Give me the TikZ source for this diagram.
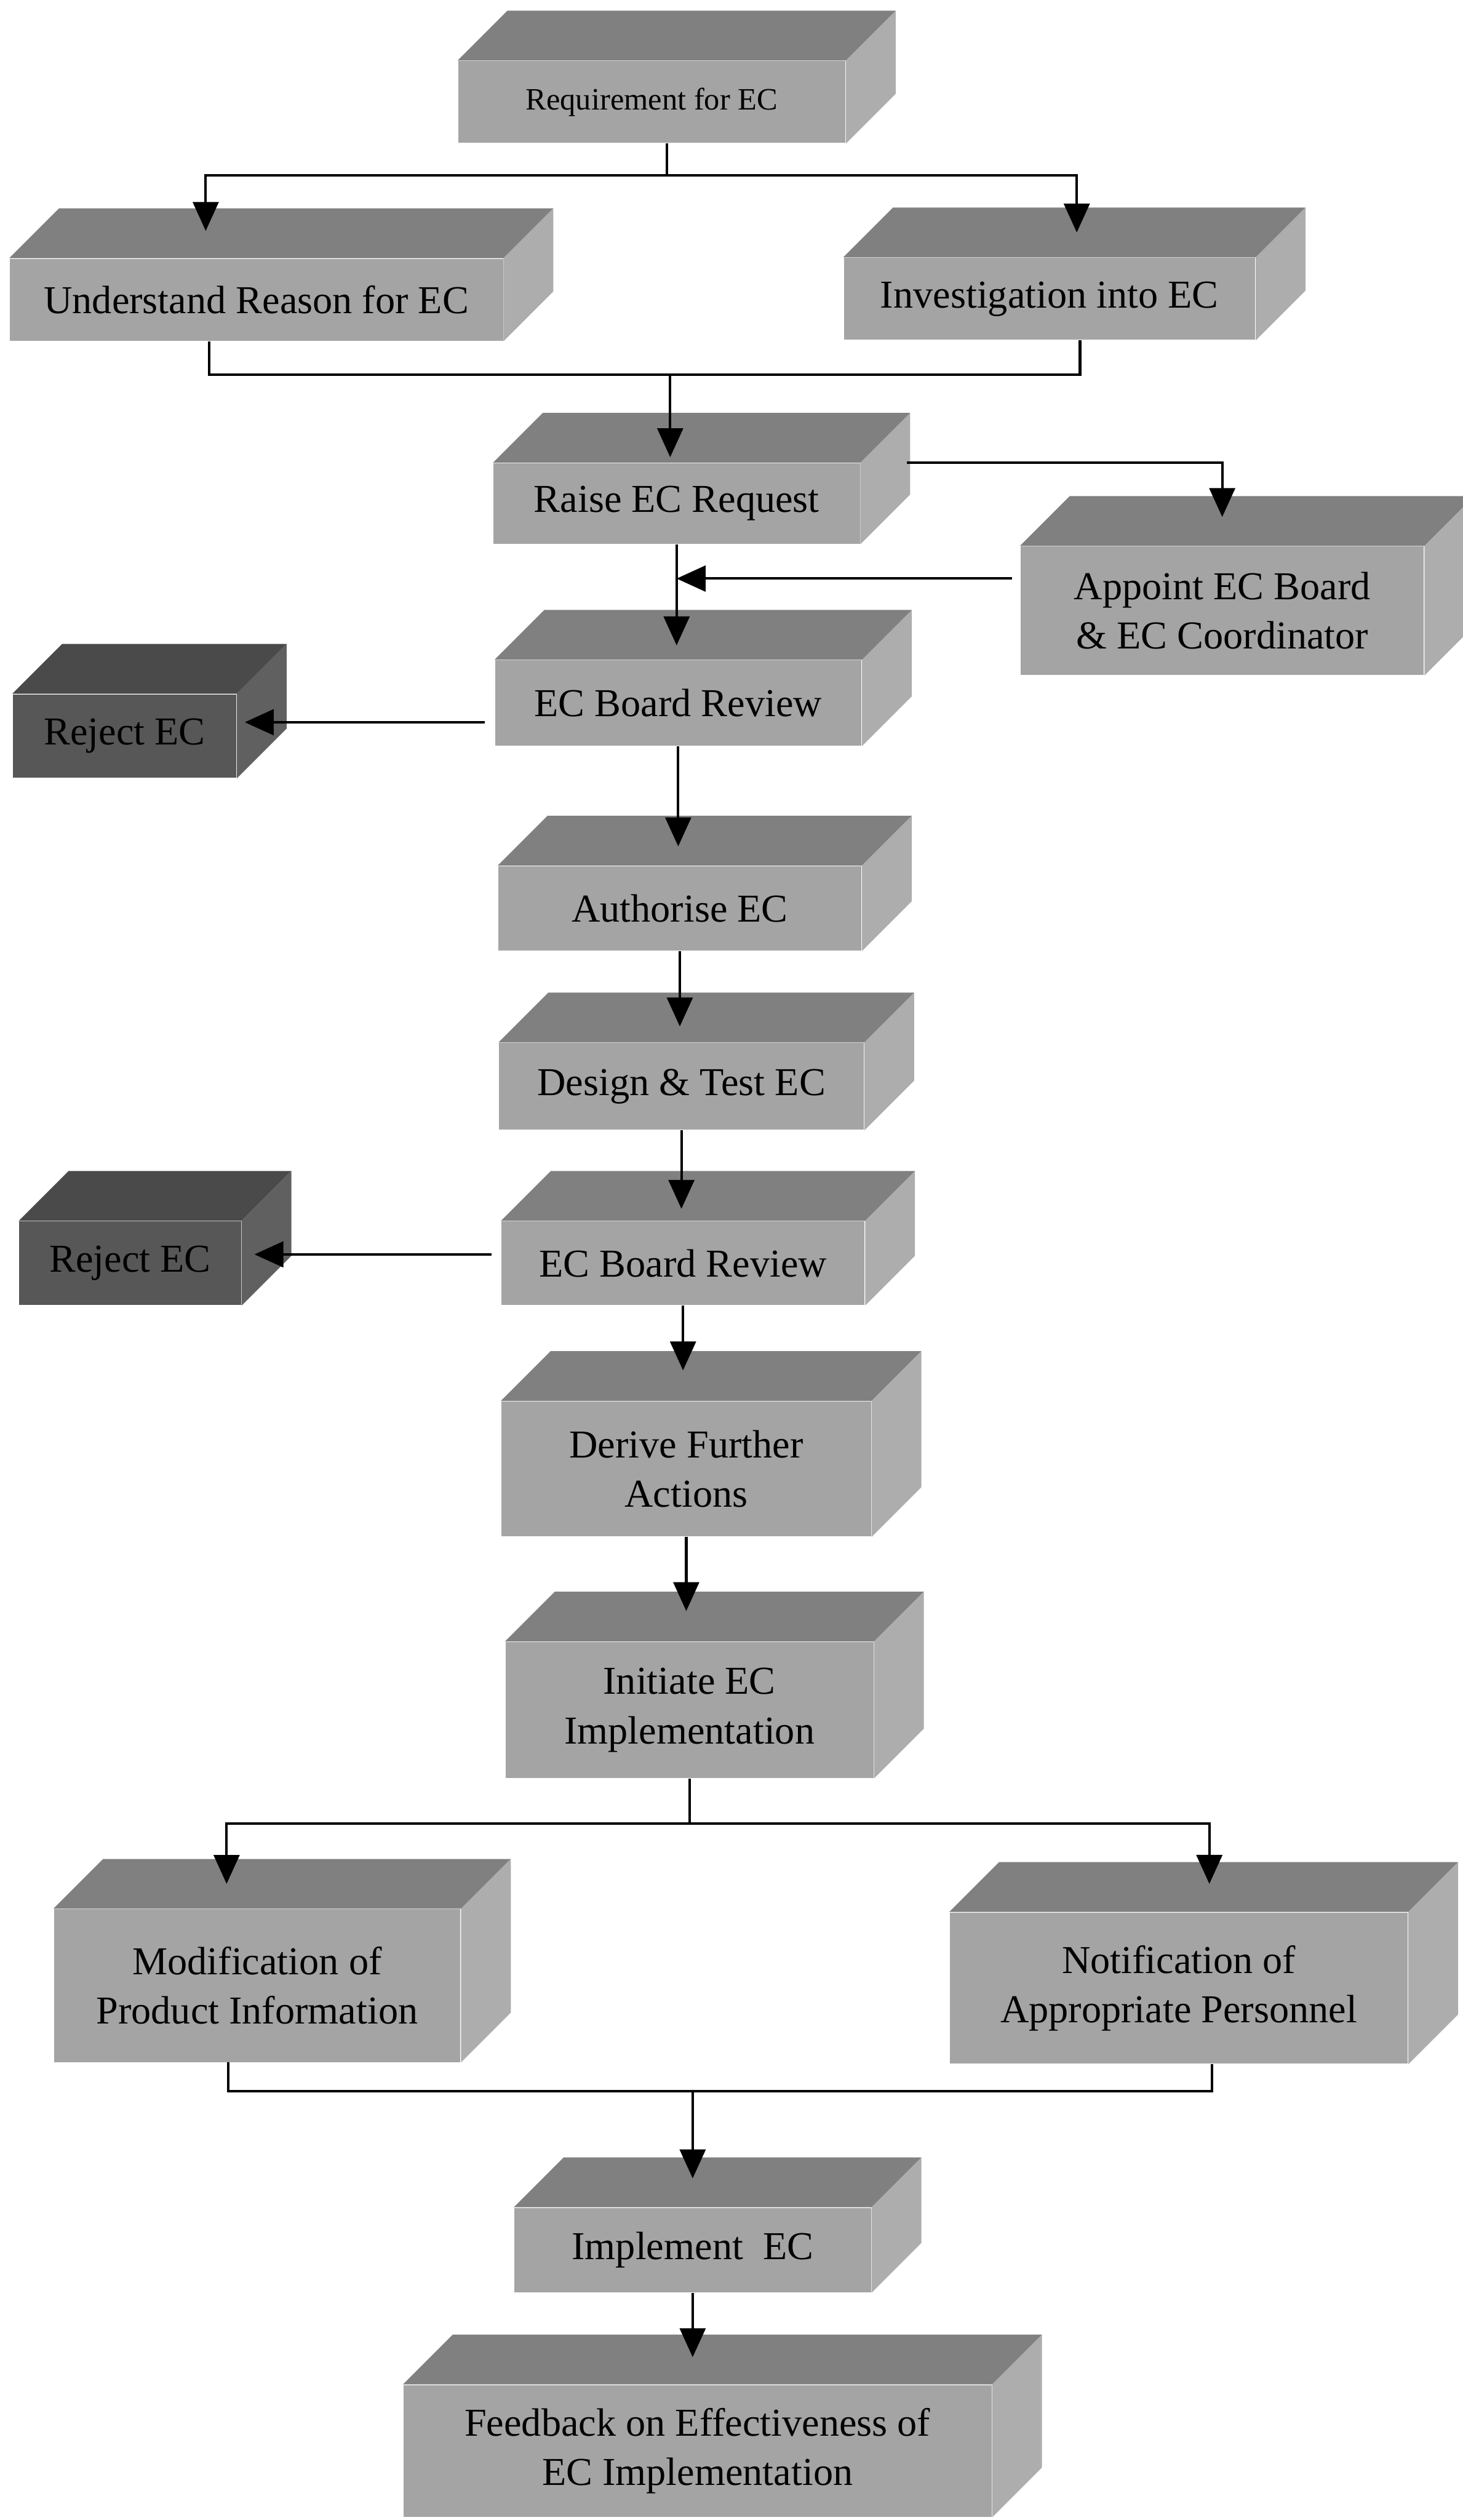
\documentclass[tikz,border=0pt]{standalone}
\usepackage{fontspec}
\setmainfont{Liberation Serif}
\usetikzlibrary{arrows.meta, calc}
\definecolor{frontgrey}{HTML}{A4A4A4}
\definecolor{topgrey}{HTML}{808080}
\definecolor{sidegrey}{HTML}{ADADAD}
\definecolor{darkfront}{HTML}{575757}
\definecolor{darktop}{HTML}{4A4A4A}
\definecolor{darkside}{HTML}{606060}
\tikzset{
  >={Triangle[length=0.36cm, width=0.32cm]},
  every picture/.style={line cap=butt, line join=miter},
  box/.style={fill=frontgrey, inner sep=0pt, align=center, font=\fontsize{14}{17.5}\selectfont},
  rejectbox/.style={box, fill=darkfront},
  link/.style={line width=0.9pt},
  flow/.style={link, ->},
}
\begin{document}
\begin{tikzpicture}[x=0.02cm, y=-0.02cm]
  \useasboundingbox (0,0) rectangle (910,1568);
  % front faces of the blocks
  \node[box, font=\fontsize{11}{13}\selectfont, minimum width=4.82cm, minimum height=1.02cm] (req) at (405.5,63.5) {Requirement for EC};
  \node[box, minimum width=6.14cm, minimum height=1.02cm] (und) at (159.5,186.5) {Understand Reason for EC};
  \node[box, minimum width=5.12cm, minimum height=1.02cm] (inv) at (653,186) {Investigation into EC};
  \node[box, minimum width=4.56cm, minimum height=1.0cm] (raise) at (421,313.3) {Raise EC Request};
  \node[box, minimum width=5.02cm, minimum height=1.6cm] (appoint) at (760.5,380) {Appoint EC Board\\\& EC Coordinator};
  \node[box, minimum width=4.56cm, minimum height=1.06cm] (rev1) at (422,437.4) {EC Board Review};
  \node[rejectbox, minimum width=2.78cm, minimum height=1.04cm] (rej1) at (77.5,458) {Reject EC};
  \node[box, minimum width=4.52cm, minimum height=1.05cm] (auth) at (423,565.2) {Authorise EC};
  \node[box, minimum width=4.54cm, minimum height=1.08cm] (design) at (424,676) {Design \& Test EC};
  \node[box, minimum width=4.52cm, minimum height=1.04cm] (rev2) at (425,786) {EC Board Review};
  \node[rejectbox, minimum width=2.76cm, minimum height=1.04cm] (rej2) at (81,786) {Reject EC};
  \node[box, minimum width=4.6cm, minimum height=1.68cm] (derive) at (427,914) {Derive Further\\Actions};
  \node[box, minimum width=4.58cm, minimum height=1.69cm] (init) at (429,1064) {Initiate EC\\Implementation};
  \node[box, minimum width=5.06cm, minimum height=1.9cm] (mod) at (160,1235.5) {Modification of\\Product Information};
  \node[box, minimum width=5.7cm, minimum height=1.88cm] (notif) at (733.5,1237) {Notification of\\Appropriate Personnel};
  \node[box, minimum width=4.44cm, minimum height=1.05cm] (impl) at (431,1400) {Implement\ \ EC};
  \node[box, minimum width=7.32cm, minimum height=1.64cm] (feed) at (434,1525) {Feedback on Effectiveness of\\EC Implementation};
  % top and side faces
  \foreach \b in {req,und,inv,raise,appoint,rev1,auth,design,rev2,derive,init,mod,notif,impl,feed}{
    \fill[topgrey] (\b.north west) -- ++(31,-31) -- ($(\b.north east)+(31,-31)$) -- (\b.north east) -- cycle;
    \fill[sidegrey] (\b.north east) -- ++(31,-31) -- ($(\b.south east)+(31,-31)$) -- (\b.south east) -- cycle;
  }
  \foreach \b in {rej1,rej2}{
    \fill[darktop] (\b.north west) -- ++(31,-31) -- ($(\b.north east)+(31,-31)$) -- (\b.north east) -- cycle;
    \fill[darkside] (\b.north east) -- ++(31,-31) -- ($(\b.south east)+(31,-31)$) -- (\b.south east) -- cycle;
  }
  % split below the requirement, join above the request
  \coordinate (reqfork) at (415,109);
  \draw[link] (req.south -| reqfork) -- (reqfork);
  \draw[flow, shorten >=0.34cm] (reqfork) -| ([xshift=-0.63cm]und.north);
  \draw[flow, shorten >=0.31cm] (reqfork) -| ([xshift=0.34cm]inv.north);
  \coordinate (revjoin) at (417,233);
  \draw[link] ([xshift=-0.59cm]und.south) |- (revjoin) -| ([xshift=0.38cm]inv.south);
  \draw[flow, shorten >=0.07cm] (revjoin) -- (revjoin |- raise.north);
  % board appointment loop
  \draw[flow, shorten >=0.36cm] ([xshift=0.58cm]raise.north east) -| (appoint.north);
  \draw[flow, shorten >=0.18cm] (raise.south) -- (raise.south |- rev1.north);
  \draw[flow, shorten <=0.1cm] ([yshift=0.4cm]appoint.west) -- ([yshift=0.4cm]appoint.west -| raise.south);
  % reviews and rejections
  \draw[flow, shorten <=0.12cm, shorten >=0.1cm] ([yshift=-0.24cm]rev1.west) -- ([yshift=-0.24cm]rev1.west -| rej1.east);
  \draw[flow, shorten >=0.24cm] (rev1.south) -- (rev1.south |- auth.north);
  \draw[flow, shorten >=0.2cm] (auth.south) -- (auth.south |- design.north);
  \draw[flow, shorten >=0.15cm] (design.south) -- (design.south |- rev2.north);
  \draw[flow, shorten <=0.12cm, shorten >=0.16cm] ([yshift=0.11cm]rev2.west) -- ([yshift=0.11cm]rev2.west -| rej2.east);
  \draw[flow, shorten >=0.38cm] (rev2.south) -- (rev2.south |- derive.north);
  \draw[flow, shorten >=0.38cm] (derive.south) -- (derive.south |- init.north);
  % parallel tasks of the implementation
  \coordinate (initfork) at (init.south |- 0,1134.6);
  \draw[link] (init.south) -- (initfork);
  \draw[flow, shorten >=0.31cm] (initfork) -| ([xshift=-0.38cm]mod.north);
  \draw[flow, shorten >=0.35cm] (initfork) -| ([xshift=0.38cm]notif.north);
  \coordinate (impljoin) at (impl.north |- 0,1301);
  \draw[link] ([xshift=-0.36cm]mod.south) |- (impljoin) -| ([xshift=0.41cm]notif.south);
  \draw[flow, shorten >=0.36cm] (impljoin) -- (impl.north);
  \draw[flow, shorten >=0.34cm] (impl.south) -- (impl.south |- feed.north);
\end{tikzpicture}
\end{document}
